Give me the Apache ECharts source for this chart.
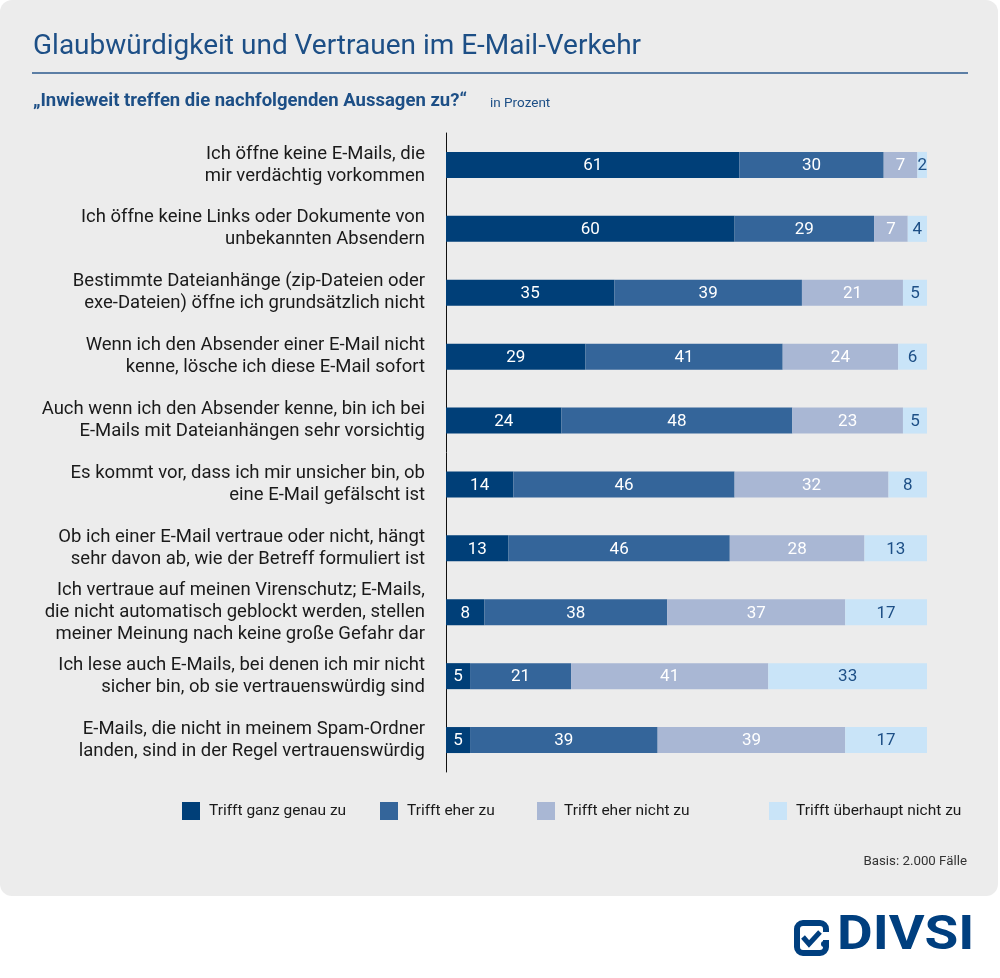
<!DOCTYPE html>
<html><head><meta charset="utf-8">
<script src="https://cdn.jsdelivr.net/npm/echarts@6/dist/echarts.min.js"></script>
<style>html,body{margin:0;padding:0;background:#fff}#c{width:1000px;height:978px}</style>
</head><body><div id="c"></div>
<script>
const categories = [
  "Ich öffne keine E-Mails, die\nmir verdächtig vorkommen",
  "Ich öffne keine Links oder Dokumente von\nunbekannten Absendern",
  "Bestimmte Dateianhänge (zip-Dateien oder\nexe-Dateien) öffne ich grundsätzlich nicht",
  "Wenn ich den Absender einer E-Mail nicht\nkenne, lösche ich diese E-Mail sofort",
  "Auch wenn ich den Absender kenne, bin ich bei\nE-Mails mit Dateianhängen sehr vorsichtig",
  "Es kommt vor, dass ich mir unsicher bin, ob\neine E-Mail gefälscht ist",
  "Ob ich einer E-Mail vertraue oder nicht, hängt\nsehr davon ab, wie der Betreff formuliert ist",
  "Ich vertraue auf meinen Virenschutz; E-Mails,\ndie nicht automatisch geblockt werden, stellen\nmeiner Meinung nach keine große Gefahr dar",
  "Ich lese auch E-Mails, bei denen ich mir nicht\nsicher bin, ob sie vertrauenswürdig sind",
  "E-Mails, die nicht in meinem Spam-Ordner\nlanden, sind in der Regel vertrauenswürdig"
];
const seriesNames = ["Trifft ganz genau zu","Trifft eher zu","Trifft eher nicht zu","Trifft überhaupt nicht zu"];
const trifftGanzGenau = [61,60,35,29,24,14,13,8,5,5];
const trifftEher = [30,29,39,41,48,46,46,38,21,39];
const trifftEherNicht = [7,7,21,24,23,32,28,37,41,39];
const trifftUeberhauptNicht = [2,4,5,6,5,8,13,17,33,17];
const titleText = "Glaubwürdigkeit und Vertrauen im E-Mail-Verkehr";
const subtitleText = "„Inwieweit treffen die nachfolgenden Aussagen zu?“";
const unitText = "in Prozent";
const basisText = "Basis: 2.000 Fälle";

const colors = ["#003f78","#34659a","#a9b7d4","#c9e4f8"];
const labelColors = ["#ffffff","#ffffff","#ffffff","#1d4f86"];
const values = [trifftGanzGenau, trifftEher, trifftEherNicht, trifftUeberhauptNicht];
const FONT = "Roboto";

const chart = echarts.init(document.getElementById('c'), null, {renderer:'canvas'});
const legendLefts = [177, 375, 532, 764];
chart.setOption({
  backgroundColor: '#ffffff',
  textStyle: {fontFamily: FONT},
  title: [
    {text: titleText, left: 28, top: 28, textStyle:{fontFamily:FONT, fontSize:28, fontWeight:'normal', color:'#1d4f86'}},
    {text: subtitleText, left: 28, top: 87, textStyle:{fontFamily:FONT, fontSize:18.5, fontWeight:'bold', color:'#1d4f86'}},
    {text: unitText, left: 485, top: 92, textStyle:{fontFamily:FONT, fontSize:13.5, fontWeight:'normal', color:'#1d4f86'}},
    {text: basisText, right: 28, top: 850, textStyle:{fontFamily:FONT, fontSize:13.3, fontWeight:'normal', color:'#333333'}}
  ],
  legend: seriesNames.map((n,i)=>({
    data:[n], left: legendLefts[i], top: 797, itemWidth:18, itemHeight:18, itemGap:0,
    icon:'rect', textStyle:{fontFamily:FONT, fontSize:15.5, color:'#1a1a1a', padding:[0,0,0,4]},
    selectedMode:false
  })),
  grid: {left: 446, right: 73, top: 133, bottom: 978-772, containLabel:false},
  xAxis: {type:'value', min:0, max:100, show:false},
  yAxis: {
    type:'category', data: categories, inverse:true,
    axisLine:{show:true, lineStyle:{color:'#111', width:1}},
    axisTick:{show:false},
    axisLabel:{fontFamily:FONT, fontSize:18.5, color:'#1a1a1a', lineHeight:22, margin:21, align:'right'}
  },
  graphic: [
    {type:'rect', z:-10, silent:true, shape:{x:0,y:0,width:998,height:896,r:12}, style:{fill:'#ececec'}},
    {type:'line', silent:true, shape:{x1:32,y1:73,x2:968,y2:73}, style:{stroke:'#2d5a8e', lineWidth:1.5}},
    {type:'group', left:794, top:920, children:[
      {type:'rect', shape:{x:3,y:3,width:29,height:30,r:6}, style:{fill:'none', stroke:'#003f7f', lineWidth:6}},
      {type:'rect', shape:{x:28,y:12,width:8,height:8}, style:{fill:'#ffffff'}},
      {type:'polyline', shape:{points:[[9,17],[15,24],[26,12]]}, style:{fill:'none', stroke:'#003f7f', lineWidth:5}},
      {type:'circle', shape:{cx:30,cy:24,r:3}, style:{fill:'#003f7f'}}
    ]},
    {type:'text', x:837, y:912, scaleX:1.12, style:{text:'DIVSI', font:'bold 49px Roboto', fill:'#003f7f'}}
  ],
  series: seriesNames.map((n,i)=>({
    name:n, type:'bar', stack:'total', barWidth:26,
    data: values[i],
    itemStyle:{color:colors[i]},
    label:{show:true, position:'inside', color:labelColors[i], fontFamily:FONT, fontSize:17, offset:[0,1]},
    emphasis:{disabled:true}
  })),
  animation:false
});
</script></body></html>
